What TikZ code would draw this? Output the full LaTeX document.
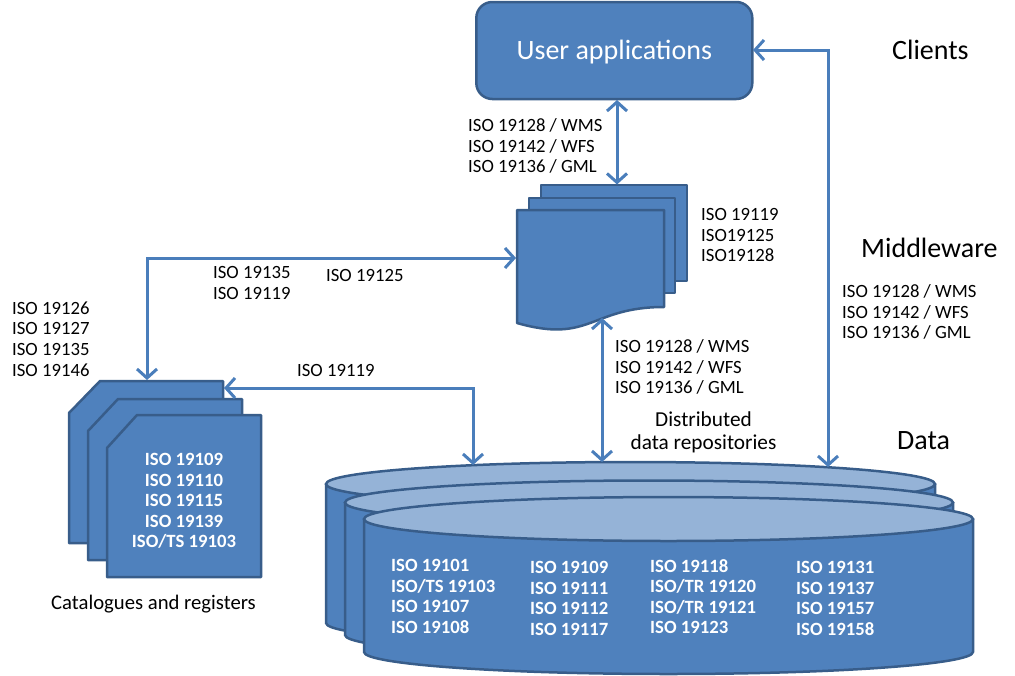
\documentclass[tikz,border=0pt]{standalone}
\usepackage{fontspec}
\setmainfont{Carlito}
\usetikzlibrary{arrows.meta}
\definecolor{fillblue}{HTML}{4F81BD}
\definecolor{edgeblue}{HTML}{385D8A}
\definecolor{lightblue}{HTML}{95B3D7}
\definecolor{arrowblue}{HTML}{4A7EBB}
\begin{document}
\begin{tikzpicture}[x=1pt,y=-1pt,
  solid shape/.style={fill=fillblue, draw=edgeblue, line width=2.5pt, line join=round},
  top shape/.style={fill=lightblue, draw=edgeblue, line width=2.5pt},
  conn/.style={draw=arrowblue, line width=3pt,
    {Straight Barb[length=9pt,width=20pt]}-{Straight Barb[length=9pt,width=20pt]}},
  lbl/.style={font=\fontsize{18.7}{20.6}\selectfont, align=left, anchor=west, inner sep=0pt},
  wlbl/.style={lbl, text=white, font=\bfseries\fontsize{18.7}{20.6}\selectfont},
  big/.style={font=\fontsize{28}{30}\selectfont, anchor=west, inner sep=0pt}]
\useasboundingbox (0,0) rectangle (1015,675);

% ---------- cylinders (data repositories) ----------
\path[solid shape] (326,484) -- (326,623) arc[start angle=180,end angle=360,x radius=304.5pt,y radius=22pt] -- (935,484) -- cycle;
\path[top shape] (630.5,484) ellipse[x radius=304.5pt, y radius=22pt];
\path[solid shape] (345,502.5) -- (345,635) arc[start angle=180,end angle=360,x radius=304pt,y radius=22pt] -- (953,502.5) -- cycle;
\path[top shape] (649,502.5) ellipse[x radius=304pt, y radius=22pt];
\path[solid shape] (364,519) -- (364,652) arc[start angle=180,end angle=360,x radius=304.5pt,y radius=22pt] -- (973,519) -- cycle;
\path[top shape] (668.5,519) ellipse[x radius=304.5pt, y radius=22pt];

\node[wlbl] (c1) at (391,596.5) {ISO 19101\\ISO/TS 19103\\ISO 19107\\ISO 19108};
\node[wlbl] (c2) at (530,598.5) {ISO 19109\\ISO 19111\\ISO 19112\\ISO 19117};
\node[wlbl] (c3) at (650,596.5) {ISO 19118\\ISO/TR 19120\\ISO/TR 19121\\ISO 19123};
\node[wlbl] (c4) at (796,598.5) {ISO 19131\\ISO 19137\\ISO 19157\\ISO 19158};

% ---------- document stack (middleware) ----------
\path[solid shape] (541,185) rectangle (687,281);
\path[solid shape] (529,198) rectangle (675,293);
\path[solid shape] (517,210) -- (664,210) -- (664,307) .. controls (590.5,307) and (590.5,344) .. (517,323) -- cycle;

% ---------- card stack (catalogues) ----------
\path[solid shape] (69,413) -- (100,381) -- (223,381) -- (223,543) -- (69,543) -- cycle;
\path[solid shape] (88,431) -- (118,399) -- (242,399) -- (242,560) -- (88,560) -- cycle;
\path[solid shape] (107,448) -- (137,415) -- (261,415) -- (261,577) -- (107,577) -- cycle;
\node[wlbl, anchor=center, align=center] (cardtext) at (184,501) {ISO 19109\\ISO 19110\\ISO 19115\\ISO 19139\\ISO/TS 19103};

% ---------- user applications ----------
\node[draw=edgeblue, fill=fillblue, line width=2.5pt, rounded corners=16pt,
  minimum width=276pt, minimum height=97pt] (ua) at (614.3,50.5) {};
\node[text=white, inner sep=0pt, font=\fontsize{28}{30}\selectfont] (uatext) at (614.3,52) {User applications};

% ---------- connector end points ----------
\coordinate (uaB) at (617,100);
\coordinate (shTop) at (617,184.5);
\coordinate (shLeft) at (516,258);
\coordinate (turnL) at (147,258);
\coordinate (cardTop) at (147,380);
\coordinate (cardR) at (224,388);
\coordinate (turnC) at (473,388);
\coordinate (cylA) at (473,465);
\coordinate (shBot) at (602,318);
\coordinate (cylB) at (602,462);
\coordinate (uaR) at (753,50);
\coordinate (turnR) at (828,50);
\coordinate (cylC) at (828,467);

\draw[conn] (uaB) -- (shTop);
\draw[conn] (cardTop) -- (turnL) -- (shLeft);
\draw[conn] (cardR) -- (turnC) -- (cylA);
\draw[conn] (shBot) -- (cylB);
\draw[conn] (uaR) -- (turnR) -- (cylC);

% ---------- labels ----------
\node[lbl] (l1) at (468,146) {ISO 19128 / WMS\\ISO 19142 / WFS\\ISO 19136 / GML};
\node[lbl] (l2) at (701,235) {ISO 19119\\ISO19125\\ISO19128};
\node[lbl] (l3) at (213,283) {ISO 19135\\ISO 19119};
\node[lbl] (l4) at (326,275) {ISO 19125};
\node[lbl] (l5) at (12,339) {ISO 19126\\ISO 19127\\ISO 19135\\ISO 19146};
\node[lbl] (l6) at (297,370) {ISO 19119};
\node[lbl] (l7) at (615,367) {ISO 19128 / WMS\\ISO 19142 / WFS\\ISO 19136 / GML};
\node[lbl] (l8) at (842,312) {ISO 19128 / WMS\\ISO 19142 / WFS\\ISO 19136 / GML};
\node[inner sep=0pt, align=center, font=\fontsize{21.3}{23}\selectfont] (dist) at (703.5,432) {Distributed\\data repositories};
\node[inner sep=0pt, font=\fontsize{20.7}{23}\selectfont] (cat) at (153.5,604) {Catalogues and registers};
\node[big] (clients) at (892,50) {Clients};
\node[big] (middle) at (861,248) {Middleware};
\node[big] (data) at (897,441) {Data};
\end{tikzpicture}
\end{document}
